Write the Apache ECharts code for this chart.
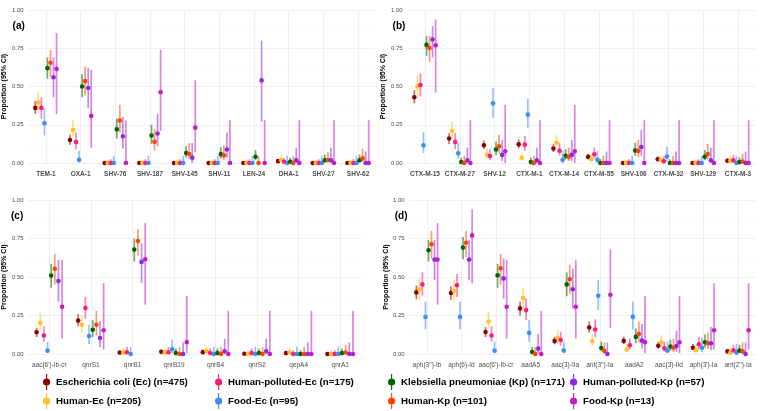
<!DOCTYPE html>
<html>
<head>
<meta charset="utf-8">
<script src="https://cdn.jsdelivr.net/npm/echarts@6/dist/echarts.min.js"></script>
<style>
html, body { margin: 0; padding: 0; background: #fff; }
#main { width: 761px; height: 411px; }
</style>
</head>
<body>
<div id="main"></div>
<script>
// group order inside every category (dodged left -> right)
var groups = ['Escherichia coli (Ec) (n=475)', 'Human-Ec (n=205)', 'Human-polluted-Ec (n=175)', 'Food-Ec (n=95)',
              'Klebsiella pneumoniae (Kp) (n=171)', 'Human-Kp (n=101)', 'Human-polluted-Kp (n=57)', 'Food-Kp (n=13)'];
var colors = ['#8B0000', '#FFC125', '#FF1A75', '#3A8EF6', '#006400', '#FF4500', '#8A2BE2', '#C21CC2'];

// (a)
var catsA = ['TEM-1', 'OXA-1', 'SHV-76', 'SHV-187', 'SHV-145', 'SHV-11', 'LEN-24', 'DHA-1', 'SHV-27', 'SHV-62'];
var estA = [
    [0.36, 0.15, 0, 0, 0, 0, 0, 0.012, 0, 0],
    [0.395, 0.215, 0, 0, 0, 0, 0, 0.02, 0, 0],
    [0.36, 0.137, 0, 0, 0, 0, 0, 0.008, 0, 0],
    [0.26, 0.021, 0, 0, 0, 0, 0, 0, 0, 0],
    [0.62, 0.50, 0.22, 0.18, 0.065, 0.058, 0.041, 0.008, 0.018, 0.018],
    [0.655, 0.535, 0.277, 0.139, 0.059, 0.05, 0, 0, 0.02, 0.03],
    [0.56, 0.49, 0.175, 0.193, 0.035, 0.088, 0.54, 0.018, 0.018, 0],
    [0.615, 0.308, 0, 0.462, 0.231, 0, 0, 0, 0, 0]
];
var lowA = [
    [0.32, 0.12, 0, 0, 0, 0, 0, 0.003, 0, 0],
    [0.33, 0.165, 0, 0, 0, 0, 0, 0.005, 0, 0],
    [0.29, 0.09, 0, 0, 0, 0, 0, 0, 0, 0],
    [0.18, 0.002, 0, 0, 0, 0, 0, 0, 0, 0],
    [0.55, 0.43, 0.16, 0.125, 0.035, 0.03, 0.018, 0, 0.004, 0.004],
    [0.56, 0.44, 0.2, 0.08, 0.025, 0.02, 0, 0, 0.002, 0.007],
    [0.43, 0.36, 0.095, 0.11, 0, 0.035, 0.27, 0, 0, 0],
    [0.32, 0.10, 0, 0.21, 0.07, 0, 0, 0, 0, 0]
];
var highA = [
    [0.405, 0.185, 0.01, 0.01, 0.01, 0.01, 0.01, 0.025, 0.01, 0.01],
    [0.46, 0.28, 0.022, 0.022, 0.022, 0.022, 0.022, 0.05, 0.022, 0.022],
    [0.43, 0.20, 0.025, 0.025, 0.025, 0.025, 0.025, 0.035, 0.025, 0.025],
    [0.36, 0.08, 0.047, 0.047, 0.047, 0.047, 0.047, 0.047, 0.047, 0.047],
    [0.69, 0.58, 0.29, 0.25, 0.11, 0.105, 0.085, 0.035, 0.055, 0.055],
    [0.74, 0.63, 0.38, 0.22, 0.13, 0.115, 0.045, 0.045, 0.07, 0.093],
    [0.69, 0.62, 0.30, 0.32, 0.13, 0.2, 0.8, 0.1, 0.1, 0.075],
    [0.85, 0.61, 0.28, 0.74, 0.54, 0.28, 0.28, 0.28, 0.28, 0.28]
];

// (b)
var catsB = ['CTX-M-15', 'CTX-M-27', 'SHV-12', 'CTX-M-1', 'CTX-M-14', 'CTX-M-55', 'SHV-106', 'CTX-M-32', 'SHV-129', 'CTX-M-3'];
var estB = [
    [0.43, 0.16, 0.116, 0.122, 0.095, 0.04, 0, 0.025, 0, 0.015],
    [0.50, 0.21, 0.054, 0.034, 0.132, 0.025, 0, 0.02, 0, 0.015],
    [0.51, 0.137, 0.046, 0.12, 0.08, 0.057, 0, 0.011, 0, 0.017],
    [0.116, 0.063, 0.39, 0.316, 0.021, 0.021, 0, 0.042, 0, 0],
    [0.772, 0.006, 0.088, 0.006, 0.047, 0, 0.082, 0, 0.041, 0.006],
    [0.752, 0, 0.109, 0, 0.04, 0, 0.079, 0, 0.059, 0.01],
    [0.807, 0.018, 0.053, 0.018, 0.053, 0, 0.105, 0, 0.018, 0],
    [0.769, 0, 0.077, 0, 0.077, 0, 0, 0, 0, 0]
];
var lowB = [
    [0.39, 0.125, 0.09, 0.095, 0.072, 0.025, 0, 0.014, 0, 0.007],
    [0.43, 0.16, 0.03, 0.015, 0.09, 0.009, 0, 0.006, 0, 0.004],
    [0.435, 0.09, 0.02, 0.08, 0.048, 0.03, 0, 0, 0, 0.003],
    [0.065, 0.027, 0.295, 0.23, 0, 0, 0, 0.012, 0, 0],
    [0.70, 0, 0.05, 0, 0.022, 0, 0.047, 0, 0.018, 0],
    [0.66, 0, 0.06, 0, 0.013, 0, 0.038, 0, 0.025, 0],
    [0.69, 0, 0.014, 0, 0.014, 0, 0.047, 0, 0, 0],
    [0.46, 0, 0, 0, 0, 0, 0, 0, 0, 0]
];
var highB = [
    [0.475, 0.195, 0.147, 0.154, 0.124, 0.06, 0.01, 0.042, 0.01, 0.03],
    [0.57, 0.27, 0.094, 0.07, 0.186, 0.058, 0.022, 0.05, 0.022, 0.045],
    [0.585, 0.197, 0.09, 0.176, 0.13, 0.102, 0.025, 0.045, 0.025, 0.052],
    [0.20, 0.133, 0.49, 0.42, 0.08, 0.08, 0.047, 0.107, 0.047, 0.047],
    [0.83, 0.036, 0.14, 0.036, 0.09, 0.025, 0.133, 0.025, 0.085, 0.036],
    [0.83, 0.045, 0.185, 0.045, 0.10, 0.045, 0.15, 0.045, 0.125, 0.06],
    [0.895, 0.10, 0.15, 0.10, 0.15, 0.075, 0.215, 0.075, 0.10, 0.075],
    [0.94, 0.28, 0.38, 0.28, 0.38, 0.28, 0.28, 0.28, 0.28, 0.28]
];

// (c)
var catsC = ["aac(6')-Ib-cr", 'qnrS1', 'qnrB1', 'qnrB19', 'qnrB4', 'qnrS2', 'qepA4', 'qnrA1'];
var estC = [
    [0.141, 0.217, 0.009, 0.015, 0.012, 0.002, 0.006, 0],
    [0.202, 0.19, 0.01, 0.01, 0.02, 0, 0.01, 0],
    [0.12, 0.298, 0.011, 0.011, 0.006, 0.006, 0, 0],
    [0.022, 0.117, 0, 0.031, 0, 0, 0, 0],
    [0.509, 0.157, 0.678, 0.006, 0.006, 0.006, 0, 0.006],
    [0.554, 0.19, 0.733, 0, 0, 0, 0, 0.01],
    [0.474, 0.104, 0.598, 0, 0.018, 0.018, 0, 0],
    [0.307, 0.154, 0.615, 0.077, 0, 0, 0, 0]
];
var lowC = [
    [0.11, 0.18, 0.002, 0.007, 0.004, 0, 0, 0],
    [0.15, 0.14, 0.001, 0.001, 0.005, 0, 0.001, 0],
    [0.08, 0.23, 0.001, 0.001, 0, 0, 0, 0],
    [0.005, 0.065, 0, 0.006, 0, 0, 0, 0],
    [0.43, 0.11, 0.60, 0, 0, 0, 0, 0],
    [0.45, 0.12, 0.64, 0, 0, 0, 0, 0],
    [0.34, 0.045, 0.46, 0, 0, 0, 0, 0],
    [0.10, 0.03, 0.32, 0.005, 0, 0, 0, 0]
];
var highC = [
    [0.17, 0.26, 0.02, 0.03, 0.028, 0.013, 0.017, 0.01],
    [0.265, 0.25, 0.037, 0.037, 0.05, 0.022, 0.037, 0.022],
    [0.18, 0.37, 0.045, 0.045, 0.035, 0.035, 0.025, 0.025],
    [0.08, 0.19, 0.047, 0.095, 0.047, 0.047, 0.047, 0.047],
    [0.585, 0.22, 0.75, 0.036, 0.036, 0.036, 0.025, 0.036],
    [0.65, 0.28, 0.81, 0.045, 0.045, 0.045, 0.045, 0.06],
    [0.61, 0.215, 0.72, 0.075, 0.10, 0.10, 0.075, 0.075],
    [0.61, 0.46, 0.85, 0.375, 0.28, 0.28, 0.28, 0.28]
];

// (d)
var catsD = ["aph(3'')-Ib", 'aph(6)-Id', "aac(6')-Ib-cr", 'aadA5', 'aac(3)-IIa', "ant(3'')-Ia", 'aadA2', 'aac(3)-IId', "aph(3')-Ia", "ant(2'')-Ia"];
var estD = [
    [0.40, 0.396, 0.143, 0.296, 0.085, 0.172, 0.085, 0.054, 0.041, 0.017],
    [0.42, 0.409, 0.211, 0.363, 0.104, 0.083, 0.03, 0.074, 0.024, 0.009],
    [0.452, 0.446, 0.12, 0.285, 0.091, 0.159, 0.057, 0.037, 0.063, 0.024],
    [0.241, 0.241, 0.022, 0.137, 0.022, 0.378, 0.241, 0.022, 0.041, 0.009],
    [0.674, 0.691, 0.511, 0.013, 0.452, 0.039, 0.111, 0.048, 0.076, 0.022],
    [0.713, 0.722, 0.557, 0, 0.485, 0.02, 0.13, 0.041, 0.07, 0.017],
    [0.613, 0.613, 0.491, 0.035, 0.42, 0, 0.087, 0.052, 0.07, 0],
    [0.613, 0.77, 0.307, 0, 0.307, 0.385, 0.076, 0.076, 0.154, 0.154]
];
var lowD = [
    [0.355, 0.35, 0.11, 0.25, 0.063, 0.14, 0.063, 0.035, 0.026, 0.008],
    [0.35, 0.34, 0.16, 0.30, 0.067, 0.05, 0.013, 0.044, 0.01, 0.001],
    [0.38, 0.37, 0.08, 0.22, 0.055, 0.11, 0.03, 0.015, 0.03, 0.008],
    [0.16, 0.16, 0.005, 0.08, 0.005, 0.285, 0.16, 0.005, 0.013, 0],
    [0.60, 0.615, 0.43, 0.002, 0.375, 0.018, 0.07, 0.022, 0.043, 0.007],
    [0.62, 0.63, 0.45, 0, 0.39, 0.002, 0.075, 0.013, 0.033, 0.002],
    [0.48, 0.48, 0.36, 0.004, 0.295, 0, 0.035, 0.014, 0.025, 0],
    [0.32, 0.46, 0.10, 0, 0.10, 0.17, 0.005, 0.005, 0.03, 0.03]
];
var highD = [
    [0.445, 0.44, 0.175, 0.34, 0.112, 0.21, 0.112, 0.078, 0.065, 0.033],
    [0.49, 0.48, 0.275, 0.43, 0.155, 0.13, 0.065, 0.12, 0.058, 0.037],
    [0.53, 0.52, 0.18, 0.36, 0.145, 0.225, 0.10, 0.08, 0.11, 0.06],
    [0.34, 0.34, 0.08, 0.22, 0.08, 0.48, 0.34, 0.08, 0.107, 0.065],
    [0.74, 0.76, 0.585, 0.045, 0.53, 0.08, 0.165, 0.092, 0.127, 0.06],
    [0.80, 0.80, 0.65, 0.045, 0.58, 0.075, 0.21, 0.10, 0.14, 0.075],
    [0.74, 0.74, 0.62, 0.13, 0.555, 0.075, 0.195, 0.15, 0.175, 0.075],
    [0.85, 0.94, 0.61, 0.28, 0.61, 0.68, 0.375, 0.375, 0.46, 0.46]
];

var panels = [
    { tag: '(a)', cats: catsA, est: estA, low: lowA, high: highA, grid: { left: 27.6, top: 10, width: 347.8, height: 153 }, bold: true },
    { tag: '(b)', cats: catsB, est: estB, low: lowB, high: highB, grid: { left: 407.6, top: 10, width: 347.8, height: 153 }, bold: true },
    { tag: '(c)', cats: catsC, est: estC, low: lowC, high: highC, grid: { left: 26, top: 200, width: 335, height: 154 }, bold: false },
    { tag: '(d)', cats: catsD, est: estD, low: lowD, high: highD, grid: { left: 409.7, top: 200, width: 345.6, height: 154 }, bold: false }
];

var FONT = 'Liberation Sans, Arial, sans-serif';
var glyph = 'path://M4.3,0h1.4v20h-1.4z M9.5,10a4.5,4.5 0 1 1 -9,0a4.5,4.5 0 1 1 9,0z';

function makeRender(g) {
    return function (params, api) {
        var i = api.value(0);
        var p = api.coord([i, api.value(1)]);
        var lo = api.coord([i, api.value(2)]);
        var hi = api.coord([i, api.value(3)]);
        var band = api.size([1, 0])[0];
        var x = p[0] + (g - 3.5) * 0.7 / 8 * band;
        return {
            type: 'group',
            children: [
                { type: 'line', shape: { x1: x, y1: lo[1], x2: x, y2: hi[1] },
                  style: { stroke: colors[g], lineWidth: 1.7, opacity: 0.55 } },
                { type: 'circle', shape: { cx: x, cy: p[1], r: 2.3 },
                  style: { fill: colors[g] } }
            ]
        };
    };
}

var grids = [], xAxes = [], yAxes = [], series = [], graphics = [];
panels.forEach(function (pn, k) {
    grids.push(pn.grid);
    xAxes.push({
        gridIndex: k, type: 'category', data: pn.cats,
        axisLine: { show: false }, axisTick: { show: false },
        axisLabel: { fontSize: 6.5, color: '#4d4d4d', fontWeight: pn.bold ? 'bold' : 'normal', fontFamily: FONT, margin: 8, interval: 0 },
        splitLine: { show: true, alignWithLabel: true, lineStyle: { color: '#ebebeb', width: 0.8 } }
    });
    yAxes.push({
        gridIndex: k, type: 'value', min: 0, max: 1, interval: 0.25,
        name: 'Proportion (95% CI)', nameLocation: 'middle', nameGap: 18,
        nameTextStyle: { fontWeight: 'bold', fontSize: 7, color: '#000', fontFamily: FONT },
        axisLine: { show: false }, axisTick: { show: false },
        axisLabel: { fontSize: 6, color: '#4d4d4d', fontFamily: FONT, margin: 5,
                     formatter: function (v) { return v.toFixed(2); } },
        splitLine: { lineStyle: { color: '#ebebeb', width: 0.8 } },
        minorTick: { show: false, splitNumber: 2 },
        minorSplitLine: { show: true, lineStyle: { color: '#f5f5f5', width: 0.5 } }
    });
    groups.forEach(function (name, g) {
        series.push({
            type: 'custom', name: name, xAxisIndex: k, yAxisIndex: k,
            renderItem: makeRender(g),
            itemStyle: { color: colors[g] },
            encode: { x: 0, y: 1 },
            data: pn.cats.map(function (c, i) {
                return [i, pn.est[g][i], pn.low[g][i], pn.high[g][i]];
            })
        });
    });
    graphics.push({
        type: 'text', left: pn.grid.left - 15, top: pn.grid.top + 11,
        style: { text: pn.tag, font: 'bold 10px ' + FONT, fill: '#000' }
    });
});

// ggplot legend is filled by column: 4 columns of 2
var legendLefts = [43, 215, 388, 570];
var legends = legendLefts.map(function (l, c) {
    return {
        orient: 'vertical', left: l, top: 374, padding: 0,
        itemWidth: 9, itemHeight: 16, itemGap: 3,
        icon: glyph,
        textStyle: { fontSize: 9.7, fontWeight: 'bold', color: '#000', fontFamily: FONT },
        data: [groups[c * 2], groups[c * 2 + 1]]
    };
});

var myChart = echarts.init(document.getElementById('main'));
myChart.setOption({
    backgroundColor: '#fff',
    animation: false,
    color: colors,
    grid: grids,
    xAxis: xAxes,
    yAxis: yAxes,
    legend: legends,
    graphic: graphics,
    series: series
});
</script>
</body>
</html>
